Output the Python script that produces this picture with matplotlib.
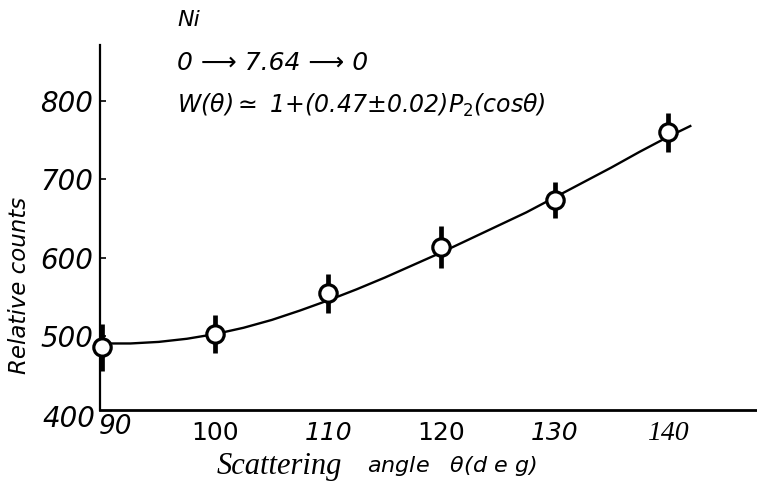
import numpy as np
import matplotlib.pyplot as plt

# measured points (angle in deg, relative counts, error)
angles = [90, 100, 110, 120, 130, 140]
counts = [486, 503, 555, 614, 674, 760]
errors = [30, 24, 25, 27, 23, 25]

# fitted curve W(theta)
curveAngles = [90, 92.5, 95, 97.5, 100, 102.5, 105, 107.5, 110, 112.5, 115,
               117.5, 120, 122.5, 125, 127.5, 130, 132.5, 135, 137.5, 140, 142]
curveCounts = [491, 491, 493, 497, 503, 511, 521, 533, 546, 560, 575,
               591, 607, 624, 641, 658, 677, 696, 715, 735, 754, 768]

xTicks = [100, 110, 120, 130, 140]
yTicks = [500, 600, 700, 800]

fig = plt.figure(figsize=(7.57, 4.86), dpi=100)
ax = fig.add_axes([0.132, 0.156, 0.868, 0.751])

ax.plot(curveAngles, curveCounts, color="black", lw=1.7, zorder=2)
ax.errorbar(angles, counts, yerr=errors, fmt="none", ecolor="black",
            elinewidth=3.4, capsize=0, zorder=3)
ax.plot(angles, counts, "o", ms=12.5, mfc="white", mec="black", mew=2.3,
        zorder=4, clip_on=False)

ax.set_xlim(89.8, 147.9)
ax.set_ylim(406, 871)

ax.spines["top"].set_visible(False)
ax.spines["right"].set_visible(False)
ax.spines["left"].set_linewidth(1.6)
ax.spines["bottom"].set_linewidth(2.0)

ax.set_xticks(xTicks)
ax.set_xticklabels([str(t) for t in xTicks])
ax.tick_params(axis="x", length=0, pad=8, labelsize=18)
ax.set_yticks(yTicks)
ax.tick_params(axis="y", direction="in", length=4, width=1.2, pad=5, labelsize=20)
for lab in ax.get_yticklabels():
    lab.set_fontstyle("italic")

# hand lettered tick labels, mixed styles
xStyles = ["normal", "italic", "normal", "italic", "italic"]
for lab, st in zip(ax.get_xticklabels(), xStyles):
    lab.set_fontstyle(st)
ax.get_xticklabels()[-1].set_family("Liberation Serif")
ax.get_xticklabels()[-1].set_fontsize(20)

# corner labels
ax.annotate("400", xy=(0, 0), xycoords="axes fraction", xytext=(-3, -6),
            textcoords="offset points", ha="right", va="center",
            fontsize=20, style="italic")
ax.annotate("90", xy=(0, 0), xycoords="axes fraction", xytext=(-1, -12),
            textcoords="offset points", ha="left", va="center",
            fontsize=19, style="italic")

# axis titles
fig.text(20 / 757, 1 - 285 / 486, "Relative counts", rotation=90,
         ha="center", va="center", fontsize=16.5, style="italic")
fig.text(217 / 757, 1 - 466 / 486, "Scattering", family="Liberation Serif",
         style="italic", fontsize=22, ha="left", va="center")
fig.text(367 / 757, 1 - 466 / 486, r"angle   $\theta$(d e g)", style="italic",
         fontsize=16, ha="left", va="center")

# text block
fig.text(177 / 757, 1 - 20 / 486, "Ni", style="italic", fontsize=16,
         ha="left", va="center")
fig.text(177 / 757, 1 - 63 / 486, "0 \u27f6 7.64 \u27f6 0", style="italic",
         fontsize=18, ha="left", va="center")
fig.text(177 / 757, 1 - 105 / 486,
         r"W($\theta$)$\simeq$ 1+(0.47±0.02)$P_2$(cos$\theta$)",
         style="italic", fontsize=17, ha="left", va="center")

fig.savefig("out.png", dpi=100)
